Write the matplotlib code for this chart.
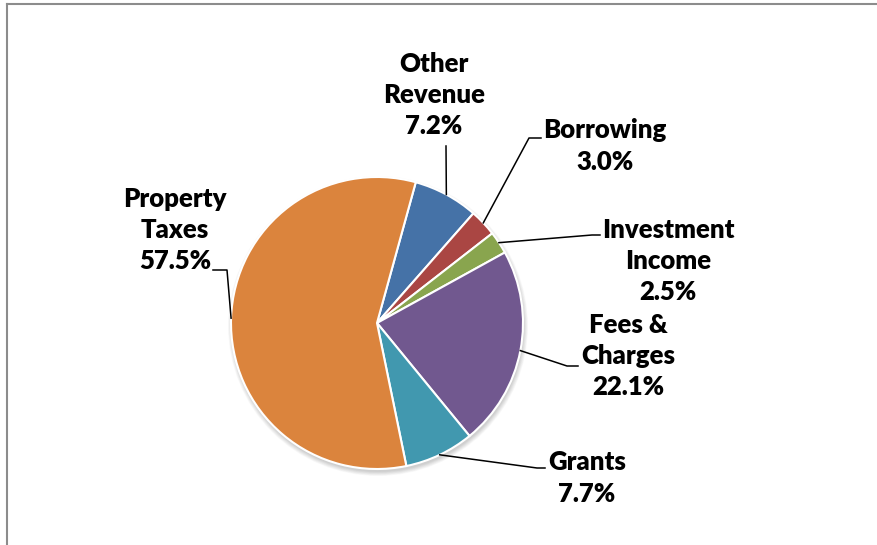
import matplotlib.pyplot as plt
import numpy as np
from matplotlib.patches import Circle

# revenue sources, clockwise from the top
sources = ["Other\nRevenue", "Borrowing", "Investment\nIncome", "Fees &\nCharges", "Grants", "Property\nTaxes"]
shares = [7.2, 3.0, 2.5, 22.1, 7.7, 57.5]
colors = ["#4572A7", "#AA4643", "#89A54E", "#71588F", "#4198AF", "#DB843D"]

W, H = 878, 545
fig = plt.figure(figsize=(W / 100, H / 100), dpi=100)
ax = fig.add_axes([0, 0, 1, 1])

cx, cy, r = 377, H - 323, 146
start = 74.6

# soft drop shadow under the pie
for i in range(8):
    ax.add_patch(Circle((cx + 1, cy - 3), r + 4 - i * 0.6, color="black",
                        alpha=0.025, lw=0, zorder=0))

wedges, _ = ax.pie(shares, colors=colors, startangle=start, counterclock=False,
                   center=(cx, cy), radius=r, frame=True,
                   wedgeprops=dict(edgecolor="white", linewidth=1.5))
ax.set_xlim(0, W)
ax.set_ylim(0, H)
ax.set_aspect("equal")
ax.axis("off")

# label text centre, elbow of the leader, end of the leader (pixel coords, y down)
label_pos = [(434, 95), (605, 146), (668, 261), (628, 356), (587, 478), (175, 230)]
elbows = [(446, 146), (529, 138), (592, 235), (567, 366), (537, 468), (227, 270)]
ends = [(446, 146), (541, 138), (600, 235), (578, 366), (545, 468), (213, 270)]

total = sum(shares)
acc = 0
for name, val, lp, el, en in zip(sources, shares, label_pos, elbows, ends):
    mid = np.deg2rad(start - 360 * (acc + val / 2) / total)
    acc += val
    px, py = cx + r * np.cos(mid), cy + r * np.sin(mid)
    ax.plot([px, el[0], en[0]], [py, H - el[1], H - en[1]], color="black",
            lw=1.1, zorder=3)
    ax.text(lp[0], H - lp[1], f"{name}\n{val:.1f}%", ha="center", va="center",
            fontsize=18.5, fontweight="heavy", family=["Lato", "DejaVu Sans"],
            linespacing=1.36, zorder=4)

# chart frame, only top and left edges visible
ax.plot([7, W], [H - 4, H - 4], color="#8c8c8c", lw=1.5, clip_on=False)
ax.plot([7, 7], [H - 4, 0], color="#8c8c8c", lw=1.5, clip_on=False)

fig.savefig("out.png", dpi=100)
